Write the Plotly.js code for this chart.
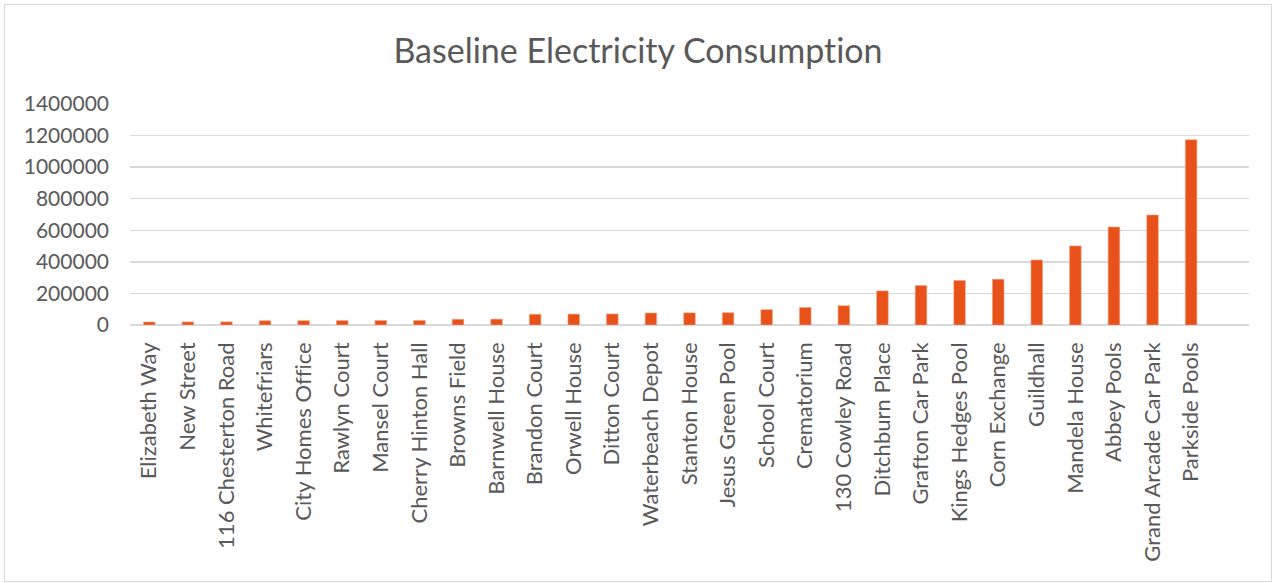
<!DOCTYPE html>
<html>
<head>
<meta charset="utf-8">
<script src="https://cdn.plot.ly/plotly-3.0.1.min.js"></script>
<style>
html,body{margin:0;padding:0;background:#fff;}
#wrap{position:absolute;left:4px;top:4px;width:1268px;height:578px;border:1px solid #d9d9d9;box-sizing:border-box;}
#chart{position:absolute;left:0;top:0;width:1276px;height:583px;}
#chart text{font-variant-ligatures:none;font-feature-settings:"liga" 0;}
</style>
</head>
<body>
<div id="wrap"></div>
<div id="chart"></div>
<script>
const categories = ["Elizabeth Way","New Street","116 Chesterton Road","Whitefriars","City Homes Office","Rawlyn Court","Mansel Court","Cherry Hinton Hall","Browns Field","Barnwell House","Brandon Court","Orwell House","Ditton Court","Waterbeach Depot","Stanton House","Jesus Green Pool","School Court","Crematorium","130 Cowley Road","Ditchburn Place","Grafton Car Park","Kings Hedges Pool","Corn Exchange","Guildhall","Mandela House","Abbey Pools","Grand Arcade Car Park","Parkside Pools"];
const consumption = [19000,19500,20000,27000,27500,28000,28500,29000,36000,37000,68000,69000,70000,76000,77000,78000,97000,111000,122000,216000,250000,282000,290000,412000,501000,621000,697000,1173000];
const yTicks = [0,200000,400000,600000,800000,1000000,1200000,1400000];

const FONT = 'Lato, Open Sans, sans-serif';
Plotly.newPlot('chart', [{
  type:'bar', x:categories, y:consumption,
  marker:{color:'#E8521A', line:{color:'#F4A27F', width:0.6}},
  hoverinfo:'x+y'
}], {
  width:1276, height:583,
  paper_bgcolor:'rgba(0,0,0,0)', plot_bgcolor:'rgba(0,0,0,0)',
  margin:{l:130, r:27, t:104, b:258, pad:0},
  bargap:0.7,
  title:{text:'Baseline Electricity Consumption', x:0.5, xanchor:'center', y:0.912, yanchor:'middle',
         font:{family:FONT, size:34, color:'#595959'}},
  xaxis:{type:'category', range:[-0.5, 28.5], tickangle:-90, tickfont:{family:FONT, size:22, color:'#595959'},
         showgrid:false, showline:false, ticks:'', ticklabelstandoff:12, automargin:false},
  yaxis:{range:[0,1400000], tickvals:yTicks, ticktext:yTicks.map(String),
         tickfont:{family:FONT, size:21, color:'#595959'}, ticklabelstandoff:20,
         gridcolor:'#d9d9d9', gridwidth:1.5, zeroline:true, zerolinecolor:'#d9d9d9', zerolinewidth:1.5,
         showline:false, ticks:'', ticklen:0, automargin:false, fixedrange:true},
  showlegend:false
}, {displayModeBar:false, staticPlot:true});
</script>
</body>
</html>
